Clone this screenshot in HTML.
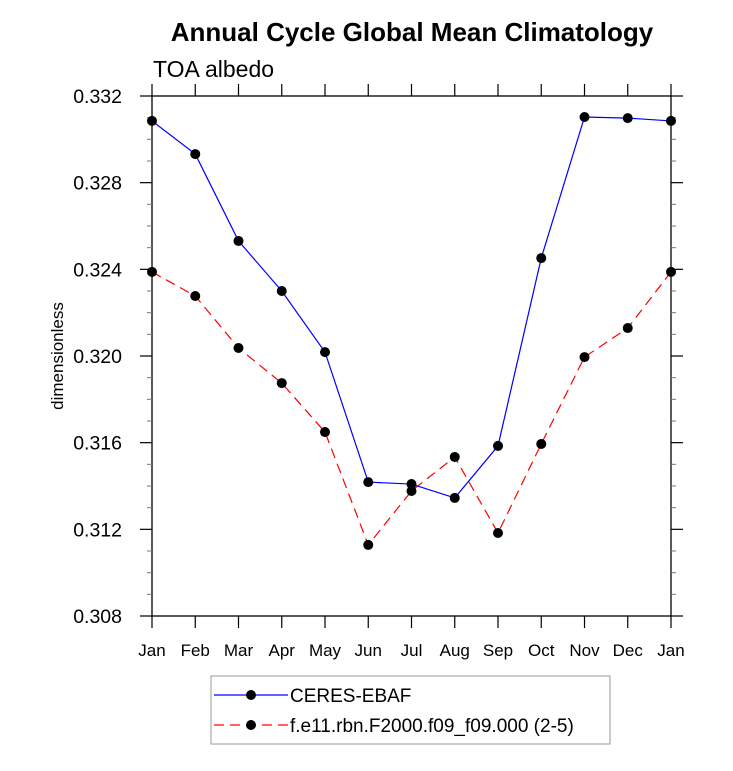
<!DOCTYPE html>
<html><head><meta charset="utf-8"><style>
body{margin:0;background:#fff;}
svg{font-family:"Liberation Sans",sans-serif;}
</style></head><body>
<svg id="chart" width="733" height="766" xmlns="http://www.w3.org/2000/svg">
<text x="412" y="41" text-anchor="middle" font-size="26" font-weight="bold">Annual Cycle Global Mean Climatology</text>
<text x="153" y="77" font-size="23">TOA albedo</text>
<text transform="translate(63,356) rotate(-90)" text-anchor="middle" font-size="17">dimensionless</text>
<g id="axes"></g>
<g id="series"></g>
<g id="legend">
<rect x="211" y="676" width="399" height="68" fill="none" stroke="#999" stroke-width="1"/>
<g>
<line x1="214" y1="695" x2="288" y2="695" stroke="#0000ff" stroke-width="1.2"/>
<circle cx="251" cy="695" r="5" fill="#000"/>
<text x="290" y="702" font-size="19">CERES-EBAF</text></g>
<g>
<line x1="214" y1="725" x2="288" y2="725" stroke="#ff0000" stroke-width="1.2" stroke-dasharray="10,6"/>
<circle cx="251" cy="725" r="5" fill="#000"/>
<text x="290" y="732" font-size="19">f.e11.rbn.F2000.f09_f09.000 (2-5)</text></g>
</g>
</svg>
<script>
const months=["Jan","Feb","Mar","Apr","May","Jun","Jul","Aug","Sep","Oct","Nov","Dec","Jan"];
const ceres=[0.33085,0.32932,0.32531,0.3230,0.32018,0.31418,0.31409,0.31345,0.31585,0.32452,0.33103,0.33098,0.33085];
const model=[0.32388,0.32277,0.32037,0.31875,0.31649,0.31128,0.31377,0.31534,0.31183,0.31594,0.31995,0.32129,0.32388];
const yTicks=["0.308","0.312","0.316","0.320","0.324","0.328","0.332"];
const NS="http://www.w3.org/2000/svg";
const L=152,R=671,T=96,B=616,ymin=0.308,ymax=0.332;
const xs=i=>L+(R-L)*i/(months.length-1);
const ys=v=>B-(v-ymin)/(ymax-ymin)*(B-T);
function mk(t,a,p){const e=document.createElementNS(NS,t);for(const k in a)e.setAttribute(k,a[k]);p.appendChild(e);return e;}
const ax=document.getElementById('axes');
const frame=mk('rect',{x:L,y:T,width:R-L,height:B-T,fill:'none',stroke:'#000','stroke-width':1.3},ax);


months.forEach((m,i)=>{const x=xs(i);
mk('line',{x1:x,y1:B,x2:x,y2:B+12,stroke:'#000','stroke-width':1.2},ax);
mk('line',{x1:x,y1:T,x2:x,y2:T-12,stroke:'#000','stroke-width':1.2},ax);
const t=mk('text',{x:x,y:656,'text-anchor':'middle','font-size':17},ax);t.textContent=m;

});
for(let k=0;k<=24;k++){const v=ymin+k*0.001,y=ys(v);
if(k%4===0){mk('line',{x1:L-12,y1:y,x2:L,y2:y,stroke:'#000','stroke-width':1.2},ax);
mk('line',{x1:R,y1:y,x2:R+12,y2:y,stroke:'#000','stroke-width':1.2},ax);}
else{mk('line',{x1:L-5,y1:y,x2:L,y2:y,stroke:'#777','stroke-width':1},ax);
mk('line',{x1:R,y1:y,x2:R+5,y2:y,stroke:'#777','stroke-width':1},ax);}}
yTicks.forEach(s=>{const t=mk('text',{x:122,y:ys(parseFloat(s))+7,'text-anchor':'end','font-size':19.5},ax);t.textContent=s;

});
const sg=document.getElementById('series');
function series(d,col,dash,name){const g=mk('g',{},sg);


const a={points:d.map((v,i)=>xs(i)+','+ys(v)).join(' '),fill:'none',stroke:col,'stroke-width':1.2};
if(dash)a['stroke-dasharray']=dash;mk('polyline',a,g);
d.forEach((v,i)=>{const c=mk('circle',{cx:xs(i),cy:ys(v),r:5,fill:'#000'},g);

});}
series(model,'#ff0000','10,6','model-series');
series(ceres,'#0000ff',null,'ceres-series');
</script>
</body></html>
